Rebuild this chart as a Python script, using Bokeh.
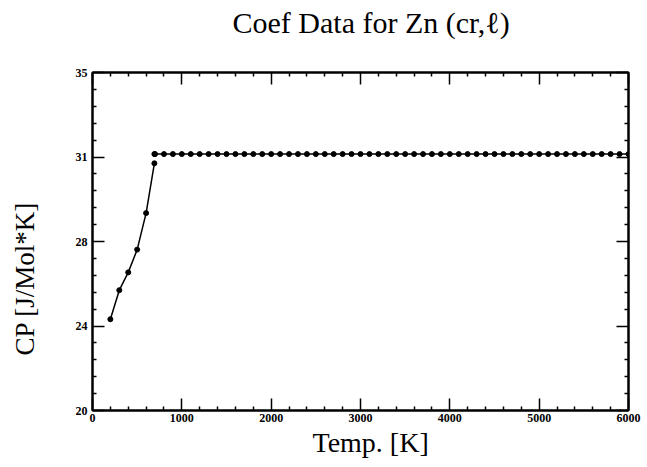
from bokeh.plotting import figure
from bokeh.models import LinearAxis, FixedTicker, Range1d, Title
from bokeh.embed import file_html
from bokeh.resources import INLINE

# ---- data ----
temp_cr = [200, 300, 400, 500, 600, 692.73]
cp_cr = [24.05, 25.34, 26.13, 27.14, 28.76, 30.97]

temp_liq = [692.73, 700, 800, 900, 1000, 1100, 1200, 1300, 1400, 1500, 1600,
            1700, 1800, 1900, 2000, 2100, 2200, 2300, 2400, 2500, 2600, 2700,
            2800, 2900, 3000, 3100, 3200, 3300, 3400, 3500, 3600, 3700, 3800,
            3900, 4000, 4100, 4200, 4300, 4400, 4500, 4600, 4700, 4800, 4900,
            5000, 5100, 5200, 5300, 5400, 5500, 5600, 5700, 5800, 5900, 6000]
cp_liq = [31.38, 31.38, 31.38, 31.38, 31.38, 31.38, 31.38, 31.38, 31.38, 31.38,
          31.38, 31.38, 31.38, 31.38, 31.38, 31.38, 31.38, 31.38, 31.38, 31.38,
          31.38, 31.38, 31.38, 31.38, 31.38, 31.38, 31.38, 31.38, 31.38, 31.38,
          31.38, 31.38, 31.38, 31.38, 31.38, 31.38, 31.38, 31.38, 31.38, 31.38,
          31.38, 31.38, 31.38, 31.38, 31.38, 31.38, 31.38, 31.38, 31.38, 31.38,
          31.38, 31.38, 31.38, 31.38, 31.38]

x_ticks = [0, 1000, 2000, 3000, 4000, 5000, 6000]
x_minor = [200, 400, 600, 800, 1200, 1400, 1600, 1800, 2200, 2400, 2600, 2800,
           3200, 3400, 3600, 3800, 4200, 4400, 4600, 4800, 5200, 5400, 5600, 5800]
y_ticks = [20, 23.75, 27.5, 31.25, 35]
y_tick_labels = ["20", "24", "28", "31", "35"]
y_minor = [20.75, 21.5, 22.25, 23.0, 24.5, 25.25, 26.0, 26.75, 28.25, 29.0,
           29.75, 30.5, 32.0, 32.75, 33.5, 34.25]

TITLE = "Coef Data for Zn (cr,\u2113)"
X_LABEL = "Temp. [K]"
Y_LABEL = "CP [J/Mol*K]"

SERIF = "Liberation Serif"

p = figure(width=646, height=466, output_backend="svg", toolbar_location=None,
           x_range=Range1d(0, 6000), y_range=Range1d(20, 35),
           x_axis_type=None, y_axis_type=None,
           min_border_left=92, min_border_right=18,
           min_border_top=72, min_border_bottom=56)

p.title.text = TITLE
p.title.text_font = SERIF
p.title.text_font_size = "30px"
p.title.text_font_style = "normal"
p.title.text_color = "black"
p.title.align = "left"
p.title.offset = 140
p.title.vertical_align = "bottom"
p.title.standoff = 0

p.xgrid.visible = False
p.ygrid.visible = False
p.outline_line_color = "black"
p.outline_line_width = 2
p.background_fill_color = "white"
p.border_fill_color = "white"

overrides = {t: l for t, l in zip(y_ticks, y_tick_labels)}


def style(ax, labels=True):
    ax.axis_line_color = "black"
    ax.axis_line_width = 2
    ax.major_tick_in = 12
    ax.major_tick_out = 0
    ax.minor_tick_in = 4
    ax.minor_tick_out = 0
    ax.major_tick_line_width = 1.5
    ax.minor_tick_line_width = 1.5
    ax.major_tick_line_color = "black"
    ax.minor_tick_line_color = "black"
    ax.major_label_text_font = SERIF
    ax.major_label_text_font_style = "bold"
    if labels:
        ax.major_label_text_font_size = "12px"
        ax.major_label_text_color = "black"
    else:
        ax.major_label_text_font_size = "1px"
        ax.major_label_text_color = None
        ax.major_label_standoff = 0


def spacer(ax, gap):
    # invisible axis label that only reserves room in the side panel
    ax.axis_label = "."
    ax.axis_label_text_font_size = "1px"
    ax.axis_label_text_color = None
    ax.axis_label_standoff = gap


xb = LinearAxis(ticker=FixedTicker(ticks=x_ticks, minor_ticks=x_minor))
style(xb)
xb.major_label_standoff = 3
p.add_layout(xb, "below")

xt = LinearAxis(ticker=FixedTicker(ticks=x_ticks, minor_ticks=x_minor))
style(xt, labels=False)
spacer(xt, 30)
p.add_layout(xt, "above")

yl = LinearAxis(ticker=FixedTicker(ticks=y_ticks, minor_ticks=y_minor))
style(yl)
yl.major_label_overrides = overrides
yl.major_label_standoff = 5
spacer(yl, 29)
p.add_layout(yl, "left")

yr = LinearAxis(ticker=FixedTicker(ticks=y_ticks, minor_ticks=y_minor))
style(yr, labels=False)
p.add_layout(yr, "right")

p.line(temp_cr, cp_cr, line_color="black", line_width=1.5)
p.scatter(temp_cr, cp_cr, size=5, fill_color="black", line_color="black")
p.line(temp_liq, cp_liq, line_color="black", line_width=1.5)
p.scatter(temp_liq, cp_liq, size=5, fill_color="black", line_color="black")

# axis titles as Title annotations in the side panels (allows offsets)
p.add_layout(Title(text=X_LABEL, text_font=SERIF, text_font_size="28px",
                   text_font_style="normal", text_color="black",
                   align="left", offset=220, vertical_align="top",
                   standoff=5), "below")
p.add_layout(Title(text=Y_LABEL, text_font=SERIF, text_font_size="27px",
                   text_font_style="normal", text_color="black",
                   align="left", offset=55, vertical_align="bottom",
                   standoff=0), "left")

open("out.html", "w").write(file_html(p, INLINE))
